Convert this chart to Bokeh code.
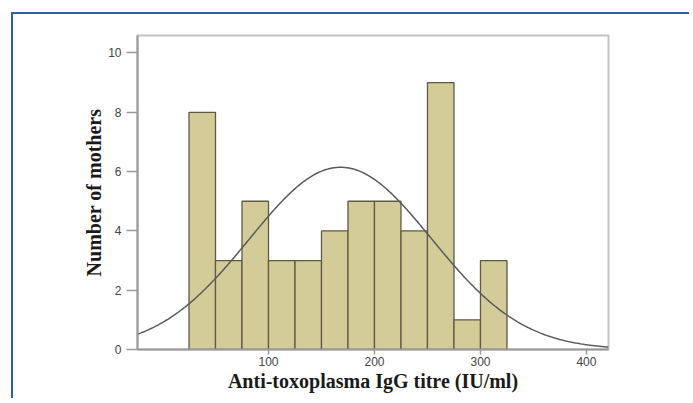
import numpy as np
from bokeh.plotting import figure
from bokeh.models import Range1d, FixedTicker
from bokeh.embed import file_html
from bokeh.resources import INLINE

# Histogram data (bin edges in IU/ml, counts of mothers)
bin_left = [25, 50, 75, 100, 125, 150, 175, 200, 225, 250, 275, 300]
bin_right = [50, 75, 100, 125, 150, 175, 200, 225, 250, 275, 300, 325]
counts = [8, 3, 5, 3, 3, 4, 5, 5, 4, 9, 1, 3]

# Fitted normal curve parameters
fit_mean = 168
fit_sd = 86
bin_width = 25

x_ticks = [100, 200, 300, 400]
y_ticks = [0, 2, 4, 6, 8, 10]

p = figure(width=678, height=386, output_backend="svg", toolbar_location=None,
           x_range=Range1d(-23.6, 420.8), y_range=Range1d(0, 10.59),
           min_border_left=124, min_border_top=21, min_border_right=83,
           min_border_bottom=51)
p.margin = (12, 0, 0, 11)
p.styles = {"border-top": "2px solid #2f5daa", "border-left": "2px solid #2f5daa"}
p.background_fill_color = "white"
p.border_fill_color = "white"
p.outline_line_color = "#c4c4c4"
p.outline_line_width = 2
p.xgrid.visible = False
p.ygrid.visible = False

p.quad(left=bin_left, right=bin_right, bottom=0, top=counts,
       fill_color="#d3cc98", line_color="#5e5a44", line_width=1.3)

n_total = sum(counts)
xs = np.linspace(-23.6, 420.8, 400)
ys = n_total * bin_width / (fit_sd * np.sqrt(2 * np.pi)) * np.exp(-0.5 * ((xs - fit_mean) / fit_sd) ** 2)
p.line(xs, ys, line_color="#5a5a5a", line_width=1.5)

for ax in (p.xaxis[0], p.yaxis[0]):
    ax.axis_line_color = "#9a9a9a"
    ax.axis_line_width = 2
    ax.major_tick_line_color = "#9a9a9a"
    ax.major_tick_line_width = 1.5
    ax.minor_tick_line_color = None
    ax.major_label_text_font = "Liberation Sans"
    ax.major_label_text_font_size = "12px"
    ax.major_label_text_color = "#444444"
    ax.axis_label_text_font = "Liberation Serif"
    ax.axis_label_text_font_style = "bold"
    ax.axis_label_text_font_size = "20px"
    ax.axis_label_text_color = "#1a1a1a"
    ax.major_tick_in = 0

p.xaxis.ticker = FixedTicker(ticks=x_ticks)
p.yaxis.ticker = FixedTicker(ticks=y_ticks)
p.xaxis.major_tick_out = 5
p.yaxis.major_tick_out = 11
p.xaxis.major_label_text_align = "right"
p.xaxis.major_label_standoff = 2
p.yaxis.major_label_standoff = 5
p.xaxis.axis_label = "Anti-toxoplasma IgG titre (IU/ml)"
p.yaxis.axis_label = "Number of mothers"
p.xaxis.axis_label_standoff = 1
p.yaxis.axis_label_standoff = 0

open("out.html", "w").write(file_html(p, INLINE))
